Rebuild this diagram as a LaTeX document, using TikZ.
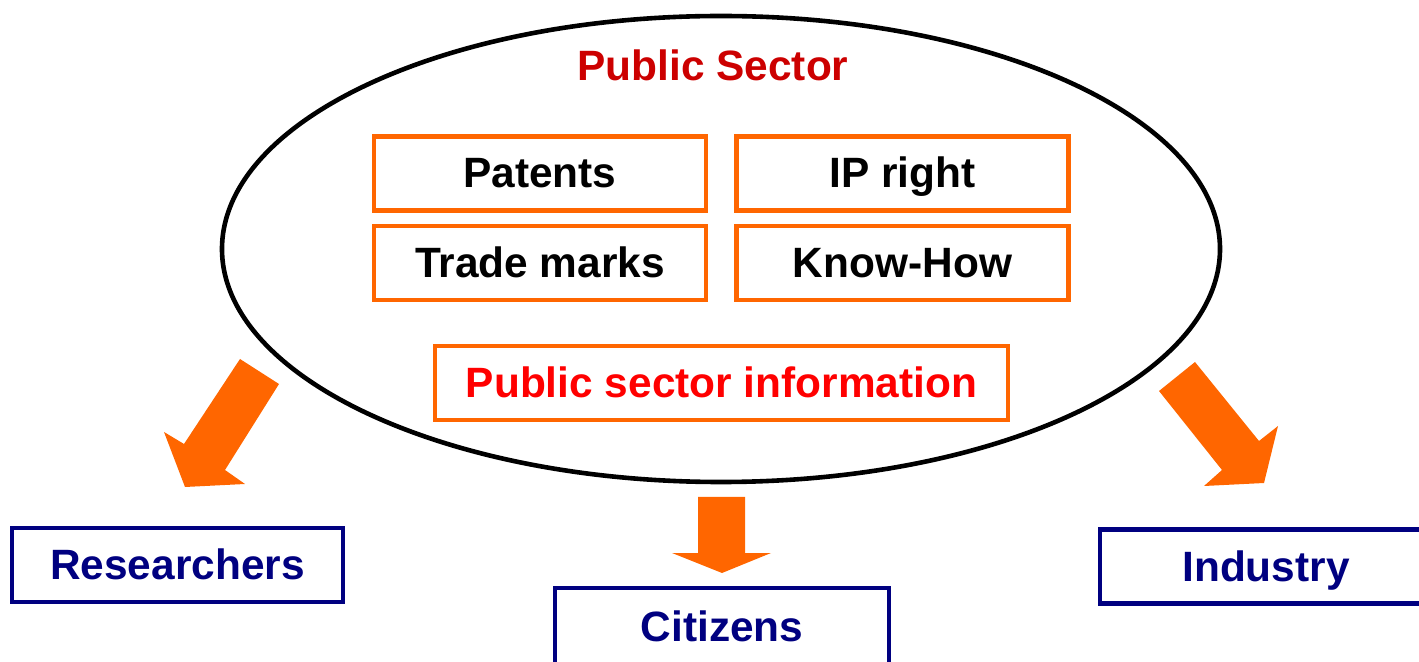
\documentclass[tikz,border=0pt]{standalone}
\usepackage{fontspec}
\setmainfont{Liberation Sans}
\usetikzlibrary{shapes.geometric}
\definecolor{orng}{HTML}{FF6600}
\definecolor{navy}{HTML}{000080}
\definecolor{darkred}{HTML}{CC0000}
\definecolor{brightred}{HTML}{FF0000}
\tikzset{
  lbl/.style={font=\fontsize{21.2}{25}\selectfont\bfseries, text height=15.5pt, text depth=1pt},
  ibox/.style={lbl, draw=orng, line width=2.2pt, minimum width=166pt, minimum height=37pt, inner sep=0pt},
  tbox/.style={lbl, draw=navy, line width=2.2pt, minimum height=37pt, inner sep=0pt, text=navy},
  barrow/.style={fill=orng, draw=none}
}
\begin{document}
\begin{tikzpicture}[x=0.5pt,y=-0.5pt]
\useasboundingbox (0,0) rectangle (1419,662);
\clip (0,0) rectangle (1419,662);
\node[draw=black, line width=2.3pt, ellipse, minimum width=499pt, minimum height=233pt, inner sep=0pt] (sector) at (721,249) {};
\node[lbl, text=darkred] (title) at (713,66) {Public Sector};
\node[ibox] (patents) at (540,173.5) {Patents};
\node[ibox] (ip) at (902.5,173.5) {IP right};
\node[ibox] (trade) at (540,263) {Trade marks};
\node[ibox] (know) at (902.5,263) {Know-How};
\node[ibox, minimum width=286.5pt, text=brightred] (psi) at (721.5,383) {Public sector information};
\node[tbox, minimum width=165.5pt] (res) at (177.5,565) {Researchers};
\node[tbox, minimum width=167pt, minimum height=39pt] (cit) at (722,627) {Citizens};
\node[tbox, minimum width=166pt] (ind) at (1266,566.5) {Industry};
% block arrows
\fill[barrow] (240,359) -- (279,384) -- (225,470) -- (245,484) -- (185,487) -- (164,432) -- (184,444) -- cycle;
\fill[barrow] (698,497) -- (745,497) -- (745,553) -- (771,553) -- (722,573) -- (672,553) -- (698,553) -- cycle;
\fill[barrow] (1159,391) -- (1195,362) -- (1259,441) -- (1278,426) -- (1264,483) -- (1204,486) -- (1222,470) -- cycle;
\end{tikzpicture}
\end{document}
